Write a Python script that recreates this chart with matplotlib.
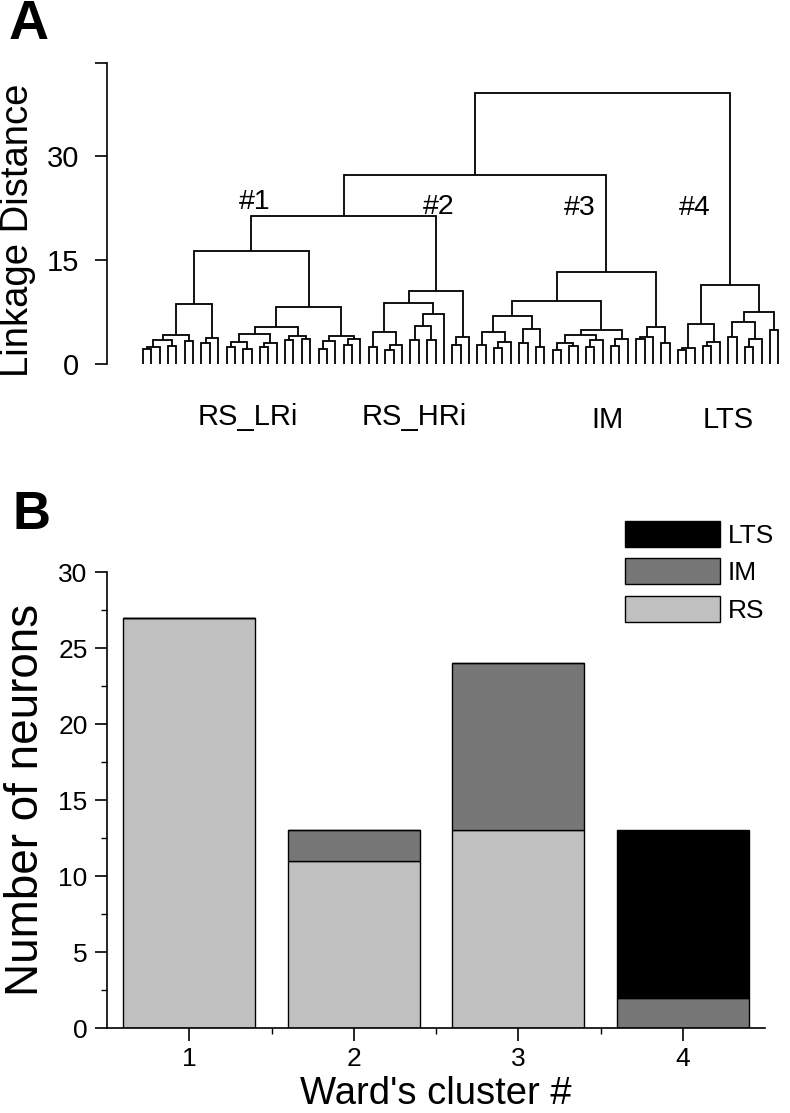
import matplotlib
matplotlib.use("Agg")
import matplotlib.pyplot as plt
from matplotlib.patches import Patch

plt.rcParams['font.family'] = ['Liberation Sans', 'DejaVu Sans']

# ---------------- Data ----------------
# Dendrogram: node = (merge height, left, right); leaf = 0
c1_left = (8.7, (4.2, (3.5, (2.4, (2.1, 0, 0), 0), (2.6, 0, 0)), (3.3, 0, 0)),
                (3.8, (3.0, 0, 0), 0))
c1_right = (8.2, (5.3, (4.3, (3.2, (2.5, 0, 0), (2.2, 0, 0)), (3.0, (2.4, 0, 0), 0)),
                       (4.0, (3.4, 0, 0), (3.6, 0, 0))),
                 (4.0, (3.3, (2.2, 0, 0), 0), (3.6, (2.8, 0, 0), 0)))
cluster1 = (16.4, c1_left, c1_right)
cluster2 = (10.5, (8.8, (4.6, (2.5, 0, 0), (2.8, (2.0, 0, 0), 0)),
                        (7.2, (5.5, (3.5, 0, 0), (3.5, 0, 0)), 0)),
                  (3.9, (2.8, 0, 0), 0))
c3_ll = (6.9, (4.6, (2.8, 0, 0), (3.2, (2.3, 0, 0), 0)), (5.0, (3.0, 0, 0), (2.5, 0, 0)))
c3_lr = (4.9, (4.2, (3.0, (2.0, 0, 0), (2.6, 0, 0)), (3.4, (2.4, 0, 0), 0)), (3.6, (2.6, 0, 0), 0))
c3_r = (5.3, (3.9, (3.6, 0, 0), 0), (3.0, 0, 0))
cluster3 = (13.3, (9.1, c3_ll, c3_lr), c3_r)
c4_l = (5.8, (2.3, (2.0, 0, 0), 0), (3.2, (2.6, 0, 0), 0))
c4_r = (7.5, (6.1, (3.9, 0, 0), (3.6, (2.4, 0, 0), 0)), (4.9, 0, 0))
cluster4 = (11.4, c4_l, c4_r)
merge_12 = 21.4
merge_123 = 27.3
merge_root = 39.2

cluster_tags = ["#1", "#2", "#3", "#4"]
group_names = ["RS_LRi", "RS_HRi", "IM", "LTS"]

# Bar chart
clusters = [1, 2, 3, 4]
rs_counts = [27, 11, 13, 0]
im_counts = [0, 2, 11, 2]
lts_counts = [0, 0, 0, 11]

# ---------------- Figure ----------------
W, H = 790, 1113
fig = plt.figure(figsize=(W / 100, H / 100), dpi=100)

def fx(px):
    return px / W

def fy(py):
    return 1 - py / H

# ---- Panel A ----
axA = fig.add_axes([fx(107), fy(364), fx(785) - fx(107), fy(63) - fy(364)])
tree = (merge_root, (merge_123, (merge_12, cluster1, cluster2), cluster3), cluster4)

counter = [0]
lw = 1.3

def draw(node):
    if node == 0:
        x = counter[0]
        counter[0] += 1
        return x, 0.0
    h, l, r = node
    xl, hl = draw(l)
    xr, hr = draw(r)
    axA.plot([xl, xl, xr, xr], [hl, h, h, hr], color='black', lw=lw,
             solid_joinstyle='miter', solid_capstyle='butt')
    return (xl + xr) / 2, h

draw(tree)
n_leaves = counter[0]
axA.set_xlim(-4.3, n_leaves - 1 + 0.8)
axA.set_ylim(0, 43.5)
for s in ['top', 'right', 'bottom']:
    axA.spines[s].set_visible(False)
axA.spines['left'].set_linewidth(1.2)
axA.set_xticks([])
axA.set_yticks([0, 15, 30])
axA.set_yticks([43.5], minor=True)
axA.tick_params(axis='y', which='both', direction='out', length=9, width=1.2,
                labelsize=21, pad=11)
axA.set_ylabel("Linkage Distance", fontsize=27.5)
axA.yaxis.set_label_coords((36 - 107) / 678, (364 - 230) / 301)

tag_pos = [(255, 202), (439, 207), (580, 208), (695, 208)]
for t, (px, py) in zip(cluster_tags, tag_pos):
    fig.text(fx(px), fy(py), t, fontsize=20.5, ha='center', va='center')
name_pos = [(248, 417), (414, 417), (607, 420), (728, 420)]
for t, (px, py) in zip(group_names, name_pos):
    fig.text(fx(px), fy(py), t, fontsize=21, ha='center', va='center')

fig.text(fx(9), fy(25), "A", fontsize=40, fontweight='bold', ha='left', va='center')
fig.text(fx(13), fy(515), "B", fontsize=38, fontweight='bold', ha='left', va='center')

# ---- Panel B ----
axB = fig.add_axes([fx(107), fy(1028), fx(765) - fx(107), fy(572) - fy(1028)])
c_rs, c_im, c_lts = '#c0c0c0', '#777777', '#000000'
bw = 0.8
axB.bar(clusters, rs_counts, width=bw, color=c_rs, edgecolor='black', linewidth=1.0)
bottom2 = rs_counts
axB.bar(clusters, im_counts, width=bw, bottom=bottom2, color=c_im, edgecolor='black', linewidth=1.0)
bottom3 = [a + b for a, b in zip(rs_counts, im_counts)]
axB.bar(clusters, lts_counts, width=bw, bottom=bottom3, color=c_lts, edgecolor='black', linewidth=1.0)
axB.set_xlim(0.5, 4.5)
axB.set_ylim(0, 30)
for s in ['top', 'right']:
    axB.spines[s].set_visible(False)
axB.spines['left'].set_linewidth(1.2)
axB.spines['bottom'].set_linewidth(1.2)
axB.set_xticks(clusters)
axB.set_xticks([1.5, 2.5, 3.5], minor=True)
axB.set_yticks(range(0, 31, 5))
axB.set_yticks([2.5 + 5 * i for i in range(6)], minor=True)
axB.tick_params(axis='both', which='major', direction='out', length=9, width=1.2,
                labelsize=19, pad=5)
axB.tick_params(axis='both', which='minor', direction='out', length=4, width=1.0)
axB.set_xlabel("Ward's cluster #", fontsize=27.5, labelpad=3)
axB.set_ylabel("Number of neurons", fontsize=33)
axB.yaxis.set_label_coords((48 - 107) / 658, 0.5)

handles = [Patch(facecolor=c_lts, edgecolor='black', label='LTS'),
           Patch(facecolor=c_im, edgecolor='black', label='IM'),
           Patch(facecolor=c_rs, edgecolor='black', label='RS')]
leg = fig.legend(handles=handles, loc='upper left', bbox_to_anchor=(fx(614), fy(510)),
                 frameon=False, fontsize=19, handlelength=3.6, handleheight=1.15,
                 labelspacing=0.4, handletextpad=0.3, borderaxespad=0)

fig.savefig("out.png", dpi=100)
